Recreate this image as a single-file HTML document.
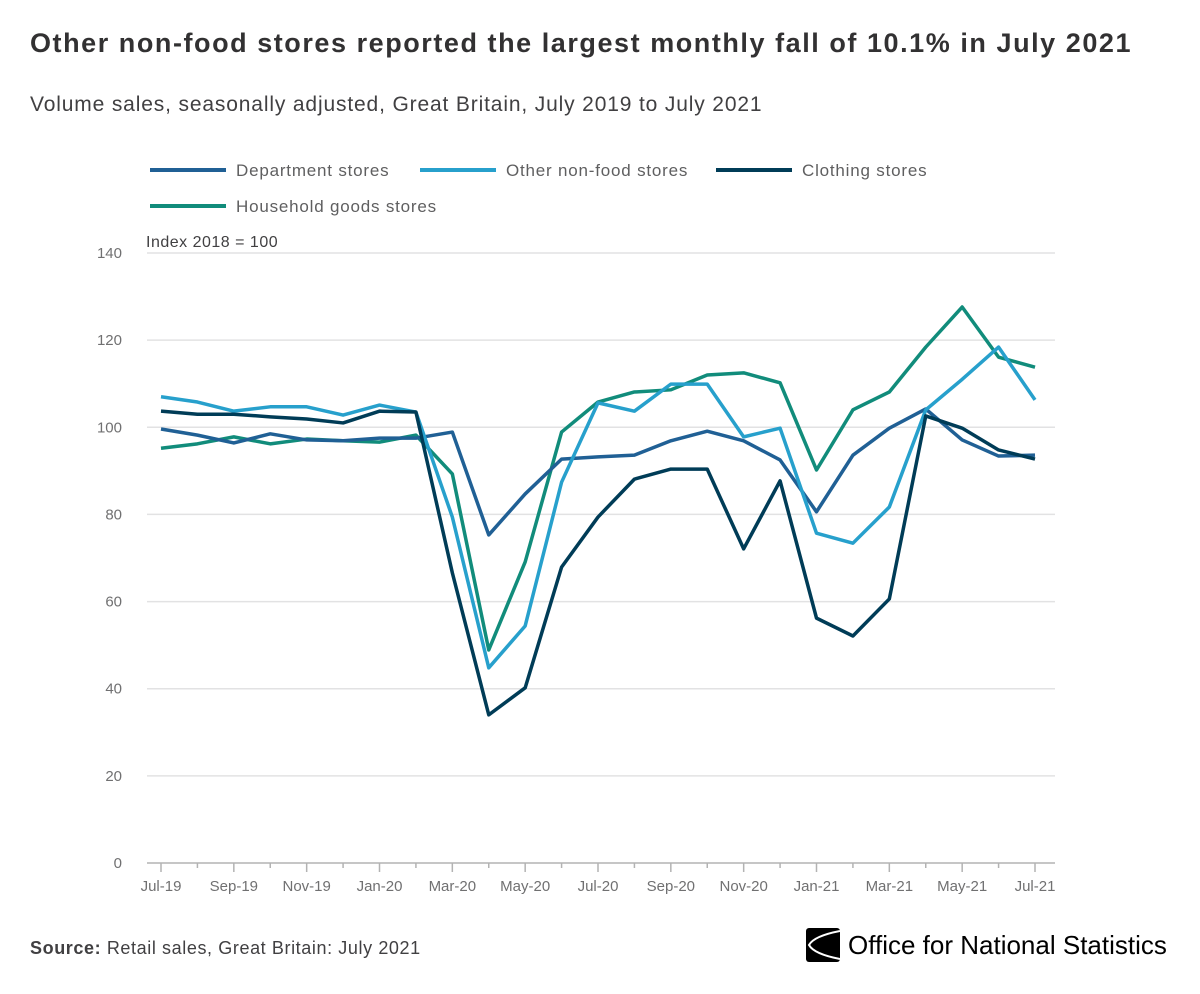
<!DOCTYPE html>
<html><head><meta charset="utf-8"><style>
body{margin:0;background:#fff;width:1200px;height:994px;overflow:hidden;font-family:"Liberation Sans",sans-serif;}
.title{position:absolute;left:30px;top:28px;font-size:27px;font-weight:bold;color:#323132;letter-spacing:1.55px;white-space:nowrap;}
.sub{position:absolute;left:30px;top:93px;font-size:21px;color:#414042;letter-spacing:0.85px;white-space:nowrap;}
.src{position:absolute;left:30px;top:938px;font-size:18px;color:#414042;letter-spacing:0.6px;}
.logo{position:absolute;left:806px;top:928px;font-size:26px;color:#000;display:flex;align-items:center;gap:8px;white-space:nowrap;}
</style></head><body>
<div class="title">Other non-food stores reported the largest monthly fall of 10.1% in July 2021</div>
<div class="sub">Volume sales, seasonally adjusted, Great Britain, July 2019 to July 2021</div>
<svg id="chart" width="1200" height="994" style="position:absolute;left:0;top:0" font-family="Liberation Sans, sans-serif"></svg>
<div class="src"><b>Source:</b> Retail sales, Great Britain: July 2021</div>
<div class="logo"><svg width="34" height="34" viewBox="0 0 34 34"><rect x="0" y="0" width="34" height="34" rx="3" fill="#000"/><path d="M34 3 Q8 8 3 17 Q8 26 34 31" stroke="#fff" stroke-width="2" fill="none"/></svg><span>Office for <b style="font-weight:500">National Statistics</b></span></div>
<script>
const categories=["Jul-19","Aug-19","Sep-19","Oct-19","Nov-19","Dec-19","Jan-20","Feb-20","Mar-20","Apr-20","May-20","Jun-20","Jul-20","Aug-20","Sep-20","Oct-20","Nov-20","Dec-20","Jan-21","Feb-21","Mar-21","Apr-21","May-21","Jun-21","Jul-21"];
const department=[99.6,98.2,96.4,98.5,97.1,96.9,97.5,97.5,98.9,75.3,84.7,92.7,93.2,93.6,96.9,99.1,96.9,92.5,80.6,93.6,99.8,104.2,97.1,93.4,93.6];
const otherNonFood=[107,105.8,103.7,104.7,104.7,102.8,105.1,103.5,79.4,44.8,54.4,87.4,105.6,103.7,109.9,109.9,97.8,99.8,75.7,73.4,81.7,104,111,118.4,106.3];
const clothing=[103.7,103,103,102.4,101.9,101,103.7,103.5,66.6,34,40.2,67.9,79.4,88.1,90.4,90.4,72.1,87.7,56.2,52.1,60.6,102.6,99.8,94.8,92.7];
const household=[95.2,96.2,97.8,96.2,97.3,96.9,96.6,98.2,89.3,48.9,69.1,98.9,105.8,108.1,108.6,112,112.5,110.2,90.2,104,108.1,118.4,127.6,116.1,113.8];
const yTicks=[0,20,40,60,80,100,120,140];
const xTickLabels=["Jul-19","Sep-19","Nov-19","Jan-20","Mar-20","May-20","Jul-20","Sep-20","Nov-20","Jan-21","Mar-21","May-21","Jul-21"];
const seriesNames=["Department stores","Other non-food stores","Clothing stores","Household goods stores"];

const svg=document.getElementById('chart');
const NS='http://www.w3.org/2000/svg';
const x0=161,x1=1035,yb=863,yt=253;
const xs=i=>x0+(x1-x0)*i/(categories.length-1);
const ys=v=>yb-(yb-yt)*v/140;
function mk(t,a,txt){const e=document.createElementNS(NS,t);for(const k in a)e.setAttribute(k,a[k]);if(txt!=null)e.textContent=txt;svg.appendChild(e);return e;}
yTicks.forEach(v=>{
  if(v>0){const g=mk('line',{x1:147,x2:1055,y1:ys(v),y2:ys(v),stroke:'#e2e2e3','stroke-width':1.5});
  
  }
  const t=mk('text',{x:122,y:ys(v)+5,'text-anchor':'end','font-size':15,fill:'#707071'},v);
  
  
});
const ax=mk('line',{x1:147,x2:1055,y1:yb,y2:yb,stroke:'#b3b3b3','stroke-width':1.5});


categories.forEach((c,i)=>{
  const tk=mk('line',{x1:xs(i),x2:xs(i),y1:yb,y2:yb+(i%2==0?9:5),stroke:'#b3b3b3','stroke-width':1.5});
  
  
  if(xTickLabels.includes(c)){const t=mk('text',{x:xs(i),y:891,'text-anchor':'middle','font-size':15,fill:'#707071'},c);
  
  }
});
const yl=mk('text',{x:146,y:247,'font-size':16,fill:'#414042','letter-spacing':0.5},'Index 2018 = 100');


const colors=['#206095','#27a0cc','#003c57','#118c7b'];
const data=[department,otherNonFood,clothing,household];
const order=[3,0,1,2];
order.forEach(s=>{
  const p=mk('polyline',{points:data[s].map((v,i)=>xs(i)+','+ys(v)).join(' '),fill:'none',stroke:colors[s],'stroke-width':3.5,'stroke-linejoin':'round'});
  
  
});
const leg=[[150,170],[420,170],[716,170],[150,206]];
seriesNames.forEach((n,s)=>{
  const [lx,ly]=leg[s];
  const l=mk('line',{x1:lx,x2:lx+76,y1:ly,y2:ly,stroke:colors[s],'stroke-width':4});
  
  
  const t=mk('text',{x:lx+86,y:ly+6,'font-size':17,fill:'#5f5f60','letter-spacing':0.8},n);
  
  
});
</script>
</body></html>
